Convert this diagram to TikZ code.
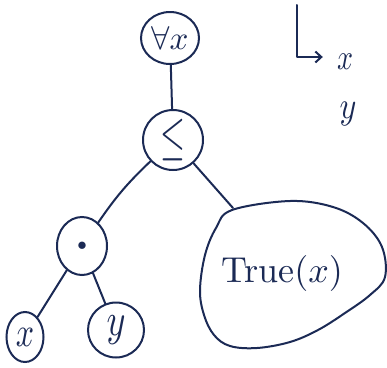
\documentclass[tikz,border=0pt]{standalone}
\usepackage{graphicx}
\usetikzlibrary{shapes.geometric,arrows.meta}
\definecolor{ink}{HTML}{1B2A55}
\begin{document}
\begin{tikzpicture}[x=1pt,y=-1pt,
  tree/.style={ellipse, draw=ink, line width=2pt, inner sep=0pt, text=ink},
  link/.style={draw=ink, line width=2pt, line cap=round, line join=round},
  lbl/.style={text=ink, inner sep=0pt}]
\useasboundingbox[fill=white] (0,0) rectangle (387,367);
% nodes
\node[tree, minimum width=58, minimum height=52] (fa) at (170,38)
  {\scalebox{3.3}{$\forall x$}};
\node[tree, minimum width=60, minimum height=60] (le) at (173,140)
  {\raisebox{2pt}{\scalebox{3.2}[5.4]{$\le$}}};
\node[tree, minimum width=50, minimum height=58] (dot) at (82,246)
  {\scalebox{1.9}{$\bullet$}};
\node[tree, minimum width=37, minimum height=50] (xn) at (25,337)
  {\scalebox{3.2}[4.2]{$x$}};
\node[tree, minimum width=56, minimum height=55] (yn) at (116,330)
  {\scalebox{3.6}[4.6]{$y$}};
\node[lbl] (tr) at (282,273) {\scalebox{3.6}{True$(x)$}};
\draw[link] plot[smooth cycle, tension=0.6] coordinates {
  (232,210) (290,201) (333,207) (363,223) (382,247) (385,277)
  (370,295) (345,313) (318,330) (290,342) (257,348) (230,346)
  (214,335) (204,315) (200,290) (205,255) (216,228)};
\coordinate (trtop) at (233,208);
% connectors
\draw[link] (fa) -- (le);
\draw[link] (le) to[bend right=6] (dot);
\draw[link] (le) -- (trtop);
\draw[link] (dot) -- (xn);
\draw[link] (dot) -- (yn);
% annotation
\node[lbl] (ax) at (345,62) {\scalebox{2.8}[3.6]{$x$}};
\node[lbl] (ay) at (348,114) {\scalebox{3.2}[3.8]{$y$}};
\coordinate (Ltop) at (297,5);
\draw[link, -{Straight Barb[length=6pt,width=11pt]}] (Ltop) |- ([xshift=-14pt]ax.west |- 0,57);
\end{tikzpicture}
\end{document}
